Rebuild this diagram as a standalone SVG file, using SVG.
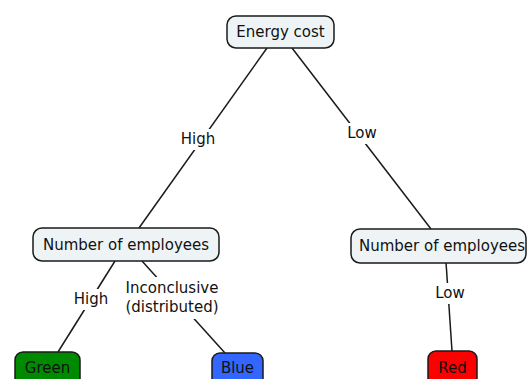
<svg xmlns="http://www.w3.org/2000/svg" width="529" height="379" viewBox="0 0 529 379">
  <style>
    .node rect { stroke: #1a1a1a; stroke-width: 1.5; }
    .plain rect { fill: #eef4f6; }
    text { font-family: "DejaVu Sans", Verdana, sans-serif; font-size: 15px; fill: #111; text-anchor: middle; dominant-baseline: central; }
    .edge line { stroke: #1a1a1a; stroke-width: 1.5; }
    .lbl rect { fill: #ffffff; stroke: none; }
  </style>
  <rect width="529" height="379" fill="#ffffff"/>

  <!-- connectors with their labels -->
  <g id="connectors" class="edge">
    <line x1="267" y1="48" x2="139" y2="228"/>
    <line x1="292" y1="48" x2="431" y2="229"/>
    <line x1="115" y1="261" x2="58" y2="352"/>
    <line x1="142" y1="261" x2="225" y2="353"/>
    <line x1="446" y1="262" x2="452" y2="351"/>
    <g class="lbl">
      <rect x="179" y="129" width="39" height="21"/>
      <text x="198" y="139">High</text>
      <rect x="345" y="123" width="34" height="21"/>
      <text x="362" y="133">Low</text>
      <rect x="72" y="289" width="39" height="21"/>
      <text x="91" y="299">High</text>
      <rect x="122" y="277" width="101" height="42"/>
      <text x="172" y="288">Inconclusive</text>
      <text x="172" y="307">(distributed)</text>
      <rect x="433" y="283" width="34" height="21"/>
      <text x="450" y="293">Low</text>
    </g>
  </g>

  <g id="energy-cost" class="node plain">
    <rect x="227" y="16" width="107" height="32" rx="9"/>
    <text x="280.5" y="32">Energy cost</text>
  </g>

  <g id="employees-high" class="node plain">
    <rect x="33" y="228" width="186" height="33" rx="9"/>
    <text x="126" y="244.5">Number of employees</text>
  </g>

  <g id="employees-low" class="node plain">
    <rect x="351" y="229" width="175" height="34" rx="9"/>
    <text x="442" y="246">Number of employees</text>
  </g>

  <g id="green" class="node">
    <rect x="15" y="352" width="65" height="36" rx="8" fill="#008a00"/>
    <text x="47.5" y="368">Green</text>
  </g>

  <g id="blue" class="node">
    <rect x="212" y="353" width="51" height="35" rx="8" fill="#3366ff"/>
    <text x="237.5" y="368">Blue</text>
  </g>

  <g id="red" class="node">
    <rect x="428" y="351" width="49" height="37" rx="8" fill="#ff0000"/>
    <text x="452.5" y="368">Red</text>
  </g>
</svg>
